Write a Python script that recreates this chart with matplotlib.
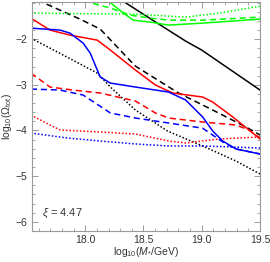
import numpy as np
import matplotlib
matplotlib.use("Agg")
import matplotlib.pyplot as plt
from matplotlib.ticker import MultipleLocator

plt.rcParams['font.family'] = ['Liberation Sans', 'DejaVu Sans']
plt.rcParams['mathtext.fontset'] = 'custom'
plt.rcParams['mathtext.rm'] = 'Liberation Sans'
plt.rcParams['mathtext.it'] = 'Liberation Sans:italic'

# curves: log10(M*/GeV) vs log10(Omega_tot)
black_solid_x = [18.30, 18.60, 18.862, 19.0, 19.5]
black_solid_y = [-1.13, -1.62, -2.044, -2.24, -3.115]

black_dash_x = [17.55, 17.629, 17.956, 18.129, 18.430, 18.801, 19.094, 19.379, 19.5]
black_dash_y = [-1.02, -1.19, -1.563, -1.781, -2.590, -3.180, -3.552, -3.923, -4.098]

black_dot_x = [17.534, 17.844, 18.103, 18.216, 18.431, 18.706, 19.008, 19.293, 19.5]
black_dot_y = [-1.978, -2.393, -2.743, -3.049, -3.552, -4.011, -4.339, -4.667, -4.951]

green_solid_x = [18.15, 18.19, 18.327, 18.413, 18.56, 18.715, 19.008, 19.5]
green_solid_y = [-1.06, -1.148, -1.432, -1.585, -1.628, -1.694, -1.650, -1.563]

green_dash_x = [17.98, 18.026, 18.216, 18.387, 18.56, 18.715, 19.008, 19.5]
green_dash_y = [-1.10, -1.19, -1.322, -1.475, -1.54, -1.585, -1.585, -1.519]

green_dot_x = [17.534, 18.43, 18.862, 19.146, 19.5]
green_dot_y = [-1.432, -1.454, -1.519, -1.432, -1.279]

red_solid_x = [17.534, 17.698, 17.87, 18.103, 18.216, 18.431, 18.603, 18.75, 19.008, 19.094, 19.267, 19.405, 19.5]
red_solid_y = [-1.541, -1.803, -1.913, -2.022, -2.240, -2.678, -3.005, -3.180, -3.268, -3.377, -3.705, -3.989, -4.186]

blue_solid_x = [17.534, 17.784, 17.87, 17.982, 18.043, 18.129, 18.216, 18.431, 18.715, 18.862, 19.008, 19.094, 19.18, 19.293, 19.5]
blue_solid_y = [-1.760, -1.803, -1.869, -2.087, -2.306, -2.831, -2.962, -3.049, -3.158, -3.333, -3.705, -4.011, -4.23, -4.404, -4.514]

red_dash_x = [17.534, 17.698, 17.896, 18.129, 18.431, 18.603, 18.715, 19.008, 19.293, 19.405, 19.5]
red_dash_y = [-2.743, -3.049, -3.115, -3.180, -3.355, -3.617, -3.727, -3.814, -3.880, -3.989, -4.164]

blue_dash_x = [17.534, 17.784, 17.982, 18.216, 18.431, 18.715, 19.008, 19.18, 19.293, 19.5]
blue_dash_y = [-3.093, -3.115, -3.224, -3.617, -3.727, -3.836, -3.95, -4.251, -4.404, -4.514]

red_dot_x = [17.534, 17.698, 17.784, 18.129, 18.431, 18.715, 18.862, 19.146, 19.5]
red_dot_y = [-3.661, -3.880, -3.989, -4.033, -4.077, -4.23, -4.273, -4.186, -4.142]

blue_dot_x = [17.534, 17.844, 18.129, 18.431, 18.715, 19.008, 19.5]
blue_dot_y = [-4.055, -4.164, -4.23, -4.295, -4.339, -4.339, -4.383]

fig = plt.figure(figsize=(2.70, 2.62), dpi=100)
ax = fig.add_axes([0.117, 0.120, 0.846, 0.872])

lw = 1.1
dash = (0, (4, 2.5))
dot = (0, (1, 1.3))

ax.plot(black_solid_x, black_solid_y, color='black', lw=lw)
ax.plot(black_dash_x, black_dash_y, color='black', lw=lw, ls=dash)
ax.plot(black_dot_x, black_dot_y, color='black', lw=lw, ls=dot)
ax.plot(green_solid_x, green_solid_y, color='#00ff00', lw=lw)
ax.plot(green_dash_x, green_dash_y, color='#00ff00', lw=lw, ls=dash)
ax.plot(green_dot_x, green_dot_y, color='#00ff00', lw=lw, ls=dot)
ax.plot(red_solid_x, red_solid_y, color='red', lw=lw)
ax.plot(red_dash_x, red_dash_y, color='red', lw=lw, ls=dash)
ax.plot(red_dot_x, red_dot_y, color='red', lw=lw, ls=dot)
ax.plot(blue_solid_x, blue_solid_y, color='blue', lw=lw)
ax.plot(blue_dash_x, blue_dash_y, color='blue', lw=lw, ls=dash)
ax.plot(blue_dot_x, blue_dot_y, color='blue', lw=lw, ls=dot)

ax.set_xlim(17.54, 19.5)
ax.set_ylim(-6.19, -1.19)

ax.xaxis.set_major_locator(MultipleLocator(0.5))
ax.xaxis.set_minor_locator(MultipleLocator(0.1))
ax.yaxis.set_major_locator(MultipleLocator(1))
ax.yaxis.set_minor_locator(MultipleLocator(0.2))
ax.set_xticks([18.0, 18.5, 19.0, 19.5])
ax.set_xticklabels(['18.0', '18.5', '19.0', '19.5'])
ax.set_yticks([-6, -5, -4, -3, -2])
ax.set_yticklabels(['\u22126', '\u22125', '\u22124', '\u22123', '\u22122'])

for s in ax.spines.values():
    s.set_color('#9a9a9a')
    s.set_linewidth(0.8)
ax.tick_params(which='both', direction='in', top=True, right=True, color='#9a9a9a',
               labelsize=7.5, labelcolor='#333333', pad=3)
ax.tick_params(which='major', length=4, width=0.7)
ax.tick_params(which='minor', length=2.2, width=0.6)

ax.set_xlabel(r'log$_{10}$($M_{*}$/GeV)', fontsize=7.5, color='#333333', labelpad=0.5)
ax.set_ylabel(r'log$_{10}$($\Omega_{\rm tot}$)', fontsize=7.5, color='#333333', labelpad=1)

ax.text(0.133, 0.077, r'$\xi$ = 4.47', transform=ax.transAxes, ha='center', va='center',
        fontsize=8, color='#333333')

fig.savefig('out.png', dpi=100)
